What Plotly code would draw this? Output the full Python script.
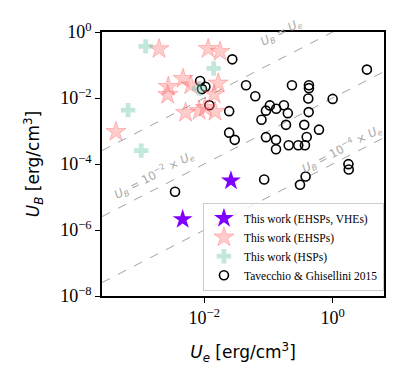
import numpy as np
import plotly.graph_objects as go

# This work (EHSPs, VHEs)
vhe_ue = [0.026, 0.0046]
vhe_ub = [3.1e-5, 2.1e-6]

# This work (EHSPs)
ehsp_ue = [1.97e-3, 0.0115, 0.0176, 2.75e-3, 2.69e-3, 4.66e-3, 6.14e-3,
           5.1e-3, 4.2e-4, 0.0165, 0.0103, 0.0147, 8.3e-3, 0.0142]
ehsp_ub = [0.306, 0.31, 0.254, 0.022, 0.0126, 0.0384, 0.0244,
           3.6e-3, 9.5e-4, 0.0279, 5.05e-3, 3.86e-3, 4.1e-3, 0.0129]

# This work (HSPs)
hsp_ue = [1.22e-3, 6.5e-4, 1.04e-3, 0.014, 8.3e-3]
hsp_ub = [0.366, 4.3e-3, 2.55e-4, 0.0786, 0.0193]

# Tavecchio & Ghisellini 2015
tg_ue = [0.0273, 8.6e-3, 0.0104, 9.2e-3, 0.0447, 0.0623, 0.012, 0.0244,
         0.232, 0.427, 0.427, 0.417, 1.0, 3.42, 0.105, 0.0914, 0.132, 0.174,
         0.2, 0.423, 0.0778, 0.1875, 0.361, 0.612, 0.394, 0.0244, 0.0298,
         0.0914, 0.131, 0.131, 0.2065, 0.291, 0.37, 1.76, 1.78, 0.0857,
         0.379, 0.31, 3.5e-3]
tg_ub = [0.1485, 0.0329, 0.022, 0.0186, 0.0244, 0.0113, 6.05e-3, 4.0e-3,
         0.0244, 0.0244, 0.0199, 9.7e-3, 9.4e-3, 0.0725, 5.97e-3, 4.13e-3,
         4.72e-3, 6.05e-3, 3.47e-3, 3.74e-3, 2.19e-3, 1.535e-3, 1.535e-3,
         1.1e-3, 6.6e-4, 8.9e-4, 5.4e-4, 6.5e-4, 5.4e-4, 2.79e-4, 3.7e-4,
         3.7e-4, 3.7e-4, 9.9e-5, 6.8e-5, 3.4e-5, 4.16e-5, 2.36e-5, 1.44e-5]

# equipartition reference lines U_B = f * U_e
line_factors = [1.0, 1e-2, 1e-4]
xrange_log = [-3.594, 0.8]
yrange_log = [-8, 0]

fig = go.Figure()

xl = np.logspace(xrange_log[0], xrange_log[1], 50)
for f in line_factors:
    fig.add_trace(go.Scatter(x=xl, y=xl * f, mode="lines", showlegend=False,
                             line=dict(color="#999999", width=0.9, dash="dash"),
                             hoverinfo="skip"))

fig.add_trace(go.Scatter(x=tg_ue, y=tg_ub, mode="markers", legendrank=4,
                         name="Tavecchio & Ghisellini 2015",
                         marker=dict(symbol="circle-open", size=9, color="black",
                                     line=dict(width=1.6, color="black"))))
fig.add_trace(go.Scatter(x=ehsp_ue, y=ehsp_ub, mode="markers", legendrank=2,
                         name="This work (EHSPs)",
                         marker=dict(symbol="star", size=15, color="rgba(255,100,100,0.33)",
                                     line=dict(width=1, color="rgba(255,90,90,0.35)"))))
fig.add_trace(go.Scatter(x=hsp_ue, y=hsp_ub, mode="markers", legendrank=3,
                         name="This work (HSPs)",
                         marker=dict(symbol="cross", size=12, color="rgba(102,194,165,0.4)",
                                     line=dict(width=0))))
fig.add_trace(go.Scatter(x=vhe_ue, y=vhe_ub, mode="markers", legendrank=1,
                         name="This work (EHSPs, VHEs)",
                         marker=dict(symbol="star", size=15, color="#7f00ff",
                                     line=dict(width=0))))

lab_font = dict(family="DejaVu Sans", size=11.5, color="#a8a8a8")
fig.add_annotation(x=-0.80, y=-0.02, text="<i>U</i><sub><i>B</i></sub> = <i>U</i><sub><i>e</i></sub>",
                   showarrow=False, textangle=-28, font=lab_font)
fig.add_annotation(x=-2.783, y=-4.33,
                   text="<i>U</i><sub><i>B</i></sub> = 10<sup>−2</sup> × <i>U</i><sub><i>e</i></sub>",
                   showarrow=False, textangle=-28, font=lab_font)
fig.add_annotation(x=0.14, y=-3.555,
                   text="<i>U</i><sub><i>B</i></sub> = 10<sup>−4</sup> × <i>U</i><sub><i>e</i></sub>",
                   showarrow=False, textangle=-28, font=lab_font)

axis_common = dict(type="log", showgrid=False, zeroline=False, showline=True,
                   linecolor="black", linewidth=1.5, mirror=True, ticks="outside",
                   ticklen=5, tickwidth=1.2, tickcolor="black",
                   tickfont=dict(family="Liberation Serif", size=18, color="black"))

fig.update_xaxes(range=xrange_log, tickvals=[1e-2, 1], ticktext=["10<sup>−2</sup>", "10<sup>0</sup>"],
                 title=dict(text="<i>U</i><sub><i>e</i></sub> [erg/cm<sup>3</sup>]",
                            font=dict(family="DejaVu Sans", size=17, color="black"), standoff=19),
                 **axis_common)
fig.update_yaxes(range=yrange_log, tickvals=[1e-8, 1e-6, 1e-4, 1e-2, 1],
                 ticktext=["10<sup>−8</sup>", "10<sup>−6</sup>", "10<sup>−4</sup>", "10<sup>−2</sup>", "10<sup>0</sup>"],
                 title=dict(text="<i>U</i><sub><i>B</i></sub> [erg/cm<sup>3</sup>]",
                            font=dict(family="DejaVu Sans", size=17, color="black"), standoff=16),
                 **axis_common)

# page body has an 8px margin, so the figure is drawn 8px smaller
fig.update_layout(width=391, height=372, plot_bgcolor="white", paper_bgcolor="white",
                  margin=dict(l=94, r=15, t=13, b=84),
                  legend=dict(x=0.358, y=0.02, xanchor="left", yanchor="bottom",
                              font=dict(family="Liberation Serif", size=11.5, color="black"),
                              bgcolor="rgba(255,255,255,0.8)", bordercolor="#cccccc",
                              borderwidth=1, tracegroupgap=0))

fig.write_html("out.html")
